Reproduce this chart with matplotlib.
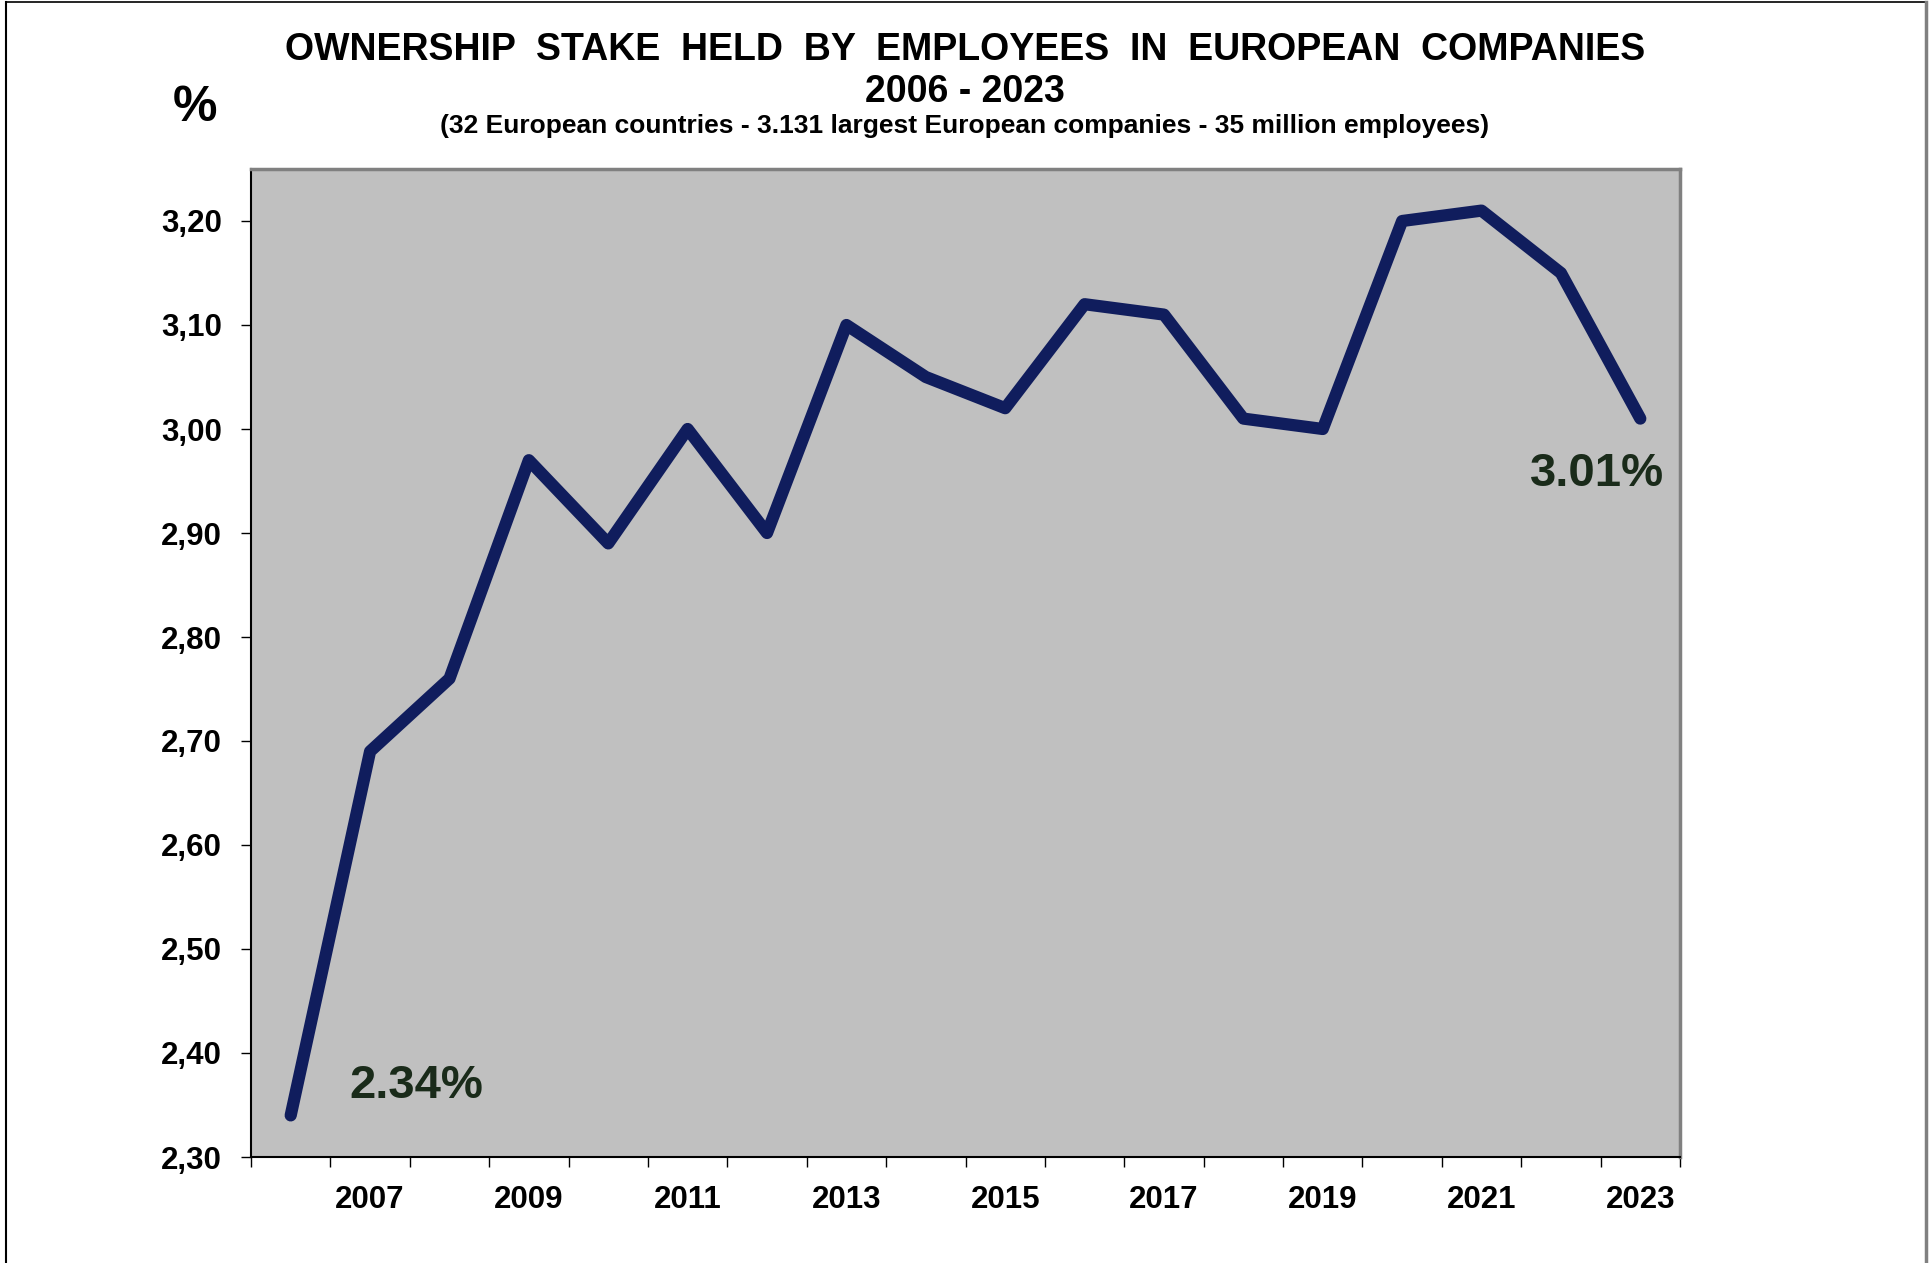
import matplotlib
matplotlib.use("Agg")
import matplotlib.pyplot as plt
from matplotlib.lines import Line2D
from matplotlib.ticker import FixedLocator, FuncFormatter

plt.rcParams["font.family"] = ["Liberation Sans", "DejaVu Sans"]
plt.rcParams["font.weight"] = "bold"

# Data
years = list(range(2006, 2024))
stake = [2.34, 2.69, 2.76, 2.97, 2.89, 3.00, 2.90, 3.10, 3.05,
         3.02, 3.12, 3.11, 3.01, 3.00, 3.20, 3.21, 3.15, 3.01]
label_years = [y for y in years if y % 2 == 1]
y_ticks = [2.30, 2.40, 2.50, 2.60, 2.70, 2.80, 2.90, 3.00, 3.10, 3.20]

LINE_COLOR = "#101D5D"
NOTE_COLOR = "#1A2B1A"

fig = plt.figure(figsize=(19.30, 12.63), dpi=100)
ax = fig.add_axes([251 / 1930, 1 - 1157 / 1263, (1680 - 251) / 1930, (1157 - 169) / 1263])
ax.set_facecolor("#C0C0C0")

xs = list(range(len(years)))
ax.plot(xs, stake, color=LINE_COLOR, lw=8.8, solid_capstyle="round", solid_joinstyle="round")

ax.set_xlim(-0.5, len(years) - 0.5)
ax.set_ylim(2.30, 3.25)

# y axis
ax.set_yticks(y_ticks)
ax.yaxis.set_major_formatter(FuncFormatter(lambda v, p: f"{v:.2f}".replace(".", ",")))
ax.tick_params(axis="y", direction="out", length=7, width=1, pad=14, labelsize=22.5)

# x axis: tick marks at category boundaries, labels at odd years
ax.set_xticks([years.index(y) for y in label_years])
ax.set_xticklabels([str(y) for y in label_years])
ax.xaxis.set_minor_locator(FixedLocator([i - 0.5 for i in range(len(years) + 1)]))
ax.tick_params(axis="x", which="major", length=0, pad=20, labelsize=22.5)
ax.tick_params(axis="x", which="minor", direction="out", length=7, width=1)

for lab in ax.get_xticklabels() + ax.get_yticklabels():
    lab.set_fontweight("bold")

ax.spines["left"].set_color("black")
ax.spines["left"].set_linewidth(1.5)
ax.spines["bottom"].set_color("black")
ax.spines["bottom"].set_linewidth(1.5)
ax.spines["top"].set_color("#808080")
ax.spines["top"].set_linewidth(2.5)
ax.spines["right"].set_color("#808080")
ax.spines["right"].set_linewidth(2.5)

# value notes
ax.text(1.58, 2.368, f"{stake[0]:.2f}%", color=NOTE_COLOR, fontsize=34,
        fontweight="bold", ha="center", va="center")
ax.text(16.45, 2.957, f"{stake[-1]:.2f}%", color=NOTE_COLOR, fontsize=34,
        fontweight="bold", ha="center", va="center")

# titles
fig.text(0.5, 1 - 50 / 1263, "OWNERSHIP  STAKE  HELD  BY  EMPLOYEES  IN  EUROPEAN  COMPANIES",
         ha="center", va="center", fontsize=27, fontweight="bold")
fig.text(0.5, 1 - 92 / 1263, "2006 - 2023", ha="center", va="center",
         fontsize=27, fontweight="bold")
fig.text(0.5, 1 - 126 / 1263,
         "(32 European countries - 3.131 largest European companies - 35 million employees)",
         ha="center", va="center", fontsize=19, fontweight="bold")
fig.text(195 / 1930, 1 - 108 / 1263, "%", ha="center", va="center",
         fontsize=36, fontweight="bold")

# outer frame
fig.add_artist(Line2D([6 / 1930, 6 / 1930], [0, 1 - 2 / 1263], color="black", lw=1.5))
fig.add_artist(Line2D([6 / 1930, 1926 / 1930], [1 - 2 / 1263, 1 - 2 / 1263], color="black", lw=1.2))
fig.add_artist(Line2D([1926 / 1930, 1926 / 1930], [0, 1 - 2 / 1263], color="#808080", lw=2.5))

fig.savefig("out.png", dpi=100)
